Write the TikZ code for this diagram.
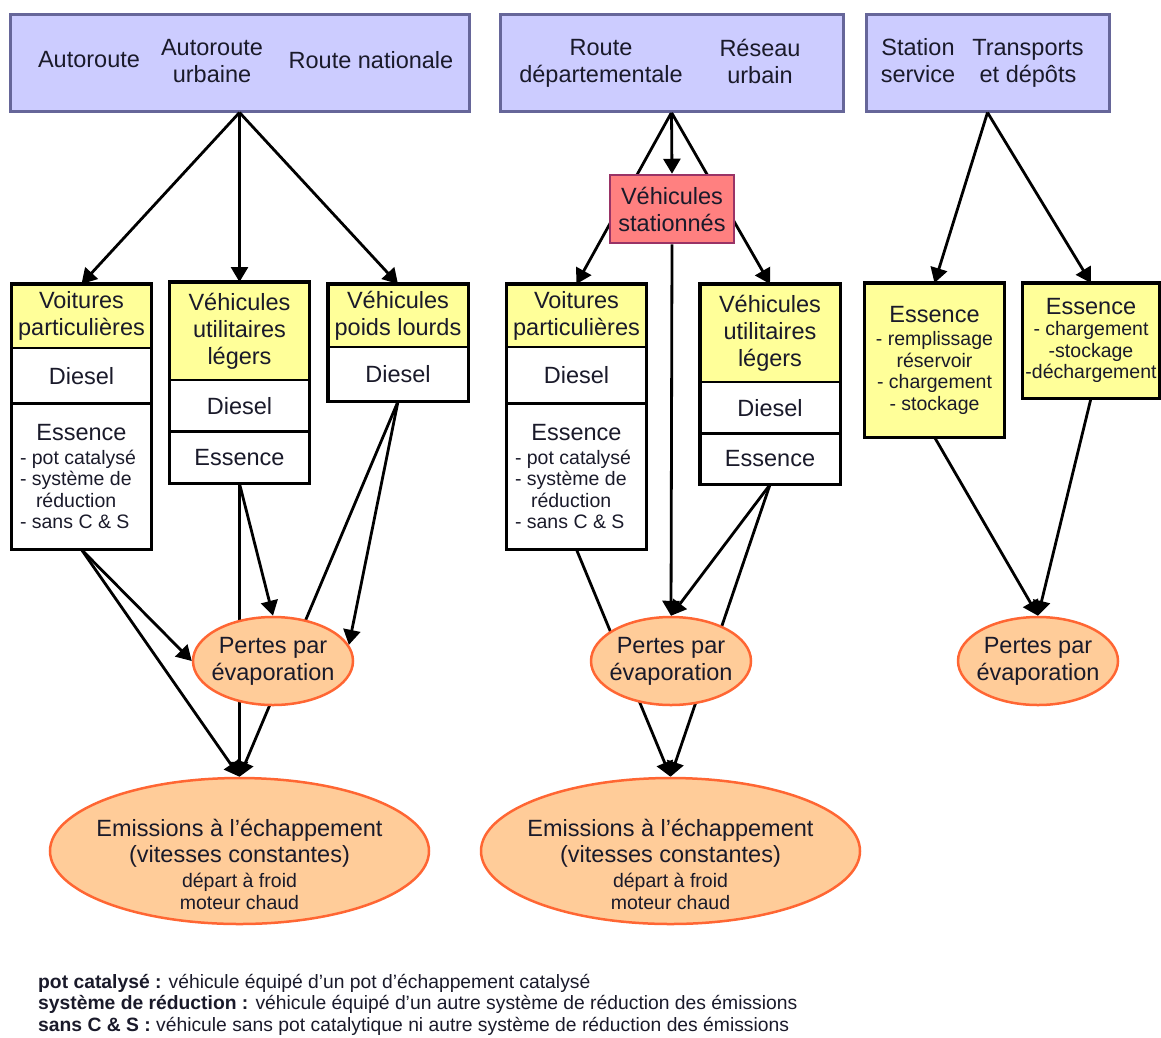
\documentclass[tikz,border=0pt]{standalone}
\usepackage{fontspec}
\setmainfont{Liberation Sans}
\usetikzlibrary{positioning,shapes.geometric,arrows.meta,backgrounds}

\definecolor{roadfill}{HTML}{CCCCFF}
\definecolor{roadline}{HTML}{666699}
\definecolor{catfill}{HTML}{FFFF99}
\definecolor{lossfill}{HTML}{FFCC99}
\definecolor{lossline}{HTML}{FF6633}
\definecolor{parkfill}{HTML}{FF8080}
\definecolor{parkline}{HTML}{993366}
\definecolor{txt}{HTML}{1A1A2A}

\newcommand{\mainsz}{\fontsize{23.5}{27}\selectfont}
\newcommand{\smallsz}{\fontsize{19.5}{21.5}\selectfont}
\newcommand{\legsz}{\fontsize{19.3}{21.5}\selectfont}
\newcommand{\listline}[1]{\makebox[123pt][l]{#1}}

\tikzset{
  road/.style={draw=roadline, fill=roadfill, line width=3pt, minimum height=97, inner sep=0},
  lbl/.style={font=\mainsz, align=center, text=txt, inner sep=0},
  sect/.style={draw, line width=1.2pt, minimum width=139, inner sep=0, anchor=north,
    font=\mainsz, align=center, text=txt},
  head/.style={sect, fill=catfill},
  frame/.style={line width=3.2pt},
  park/.style={draw=parkline, fill=parkfill, line width=2.5pt, minimum width=124,
    minimum height=68, inner sep=0, font=\mainsz, align=center, text=txt},
  loss/.style={ellipse, draw=lossline, fill=lossfill, line width=2.5pt, minimum width=160,
    minimum height=88, inner sep=0},
  legend/.style={anchor=west, font=\legsz, inner sep=0, text=txt},
  link/.style={line width=2.8pt, -{Triangle[length=15pt,width=17pt]}}
}

\begin{document}
\begin{tikzpicture}[x=1pt,y=-1pt]
\useasboundingbox (0,0) rectangle (1161,1037);

% road types
\node[road, minimum width=459] (rd1) at (239.5,62.5) {};
\node[lbl] (rd1a) at (89,60) {Autoroute};
\node[lbl] (rd1b) at (212,61) {Autoroute\\urbaine};
\node[lbl] (rd1c) at (371,60) {Route nationale};

\node[road, minimum width=343] (rd2) at (671.5,62.5) {};
\node[lbl] (rd2a) at (601,63) {Route\\départementale};
\node[lbl] (rd2b) at (760,61) {Réseau\\urbain};

\node[road, minimum width=243] (rd3) at (987.5,62.5) {};
\node[lbl] (rd3a) at (918,61) {Station\\service};
\node[lbl] (rd3b) at (1028,63) {Transports\\et dépôts};

% first group
\node[head, minimum height=63] (vp1h) at (81.5,284) {Voitures\\particulières};
\node[sect, minimum height=54, below=0pt of vp1h] (vp1d) {Diesel};
\node[sect, font=\smallsz, minimum height=145, below=0pt of vp1d] (vp1e) {{\mainsz Essence}\\[2pt]\listline{- pot catalysé}\\\listline{- système de}\\\listline{\hspace{16pt}réduction}\\\listline{- sans C \& S}};
\draw[frame] (vp1h.north west) rectangle (vp1e.south east);

\node[head, minimum height=97] (vul1h) at (239.5,282) {Véhicules\\utilitaires\\légers};
\node[sect, minimum height=50, below=0pt of vul1h] (vul1d) {Diesel};
\node[sect, minimum height=51, below=0pt of vul1d] (vul1e) {Essence};
\draw[frame] (vul1h.north west) rectangle (vul1e.south east);

\node[head, minimum height=62] (pl1h) at (398,284) {Véhicules\\poids lourds};
\node[sect, minimum height=53, below=0pt of pl1h] (pl1d) {Diesel};
\draw[frame] (pl1h.north west) rectangle (pl1d.south east);

\node[loss] (pt1) at (273,661) {};
\node[lbl] (pt1t) at (pt1) {Pertes par\\évaporation};
\node[loss, minimum width=379, minimum height=146] (em1) at (239.5,851) {};
\node[lbl, font=\smallsz] (em1t) at (239.5,864)
  {{\mainsz Emissions à l'échappement}\\[3.5pt]{\mainsz (vitesses constantes)}\\[3.5pt]départ à froid\\moteur chaud};

\draw[link] (rd1.south) -- (vp1h.north);
\draw[link] (rd1.south) -- (vul1h.north);
\draw[link] (rd1.south) -- (pl1h.north);
\draw[link] (vp1e.south) -- (pt1.west);
\draw[link] (vp1e.south) -- (em1.north);
\draw[link] (vul1e.south) -- (pt1.north);
\draw[link] (pl1d.south) -- (pt1.12);
\begin{scope}[on background layer]
  \draw[link] (vul1e.south) -- (em1.north);
  \draw[link] (pl1d.south) -- (em1.north);
\end{scope}

% second group
\node[park] (st2) at (672,209) {Véhicules\\stationnés};

\node[head, minimum height=62] (vp2h) at (576.5,284) {Voitures\\particulières};
\node[sect, minimum height=55, below=0pt of vp2h] (vp2d) {Diesel};
\node[sect, font=\smallsz, minimum height=145, below=0pt of vp2d] (vp2e) {{\mainsz Essence}\\[2pt]\listline{- pot catalysé}\\\listline{- système de}\\\listline{\hspace{16pt}réduction}\\\listline{- sans C \& S}};
\draw[frame] (vp2h.north west) rectangle (vp2e.south east);

\node[head, minimum height=97] (vul2h) at (770,284) {Véhicules\\utilitaires\\légers};
\node[sect, minimum height=50, below=0pt of vul2h] (vul2d) {Diesel};
\node[sect, minimum height=50, below=0pt of vul2d] (vul2e) {Essence};
\draw[frame] (vul2h.north west) rectangle (vul2e.south east);

\node[loss] (pt2) at (671,661) {};
\node[lbl] (pt2t) at (pt2) {Pertes par\\évaporation};
\node[loss, minimum width=379, minimum height=146] (em2) at (670.5,851) {};
\node[lbl, font=\smallsz] (em2t) at (670.5,864)
  {{\mainsz Emissions à l'échappement}\\[3.5pt]{\mainsz (vitesses constantes)}\\[3.5pt]départ à froid\\moteur chaud};

\draw[link] (rd2.south) -- (st2.north);
\draw[link] (st2.south) -- (pt2.north);
\draw[link] (vul2e.south) -- (pt2.north);
\begin{scope}[on background layer]
  \draw[link] (rd2.south) -- (vp2h.north);
  \draw[link] (rd2.south) -- (vul2h.north);
  \draw[link] (vp2e.south) -- (em2.north);
  \draw[link] (vul2e.south) -- (em2.north);
\end{scope}

% third group
\node[head, font=\smallsz, minimum height=153] (es3a) at (934.5,283) {{\mainsz Essence}\\[2pt]- remplissage\\réservoir\\- chargement\\- stockage};
\draw[frame] (es3a.north west) rectangle (es3a.south east);
\node[head, font=\smallsz, minimum width=136, minimum height=114] (es3b) at (1091,283) {{\mainsz Essence}\\[0pt]- chargement\\-stockage\\-déchargement};
\draw[frame] (es3b.north west) rectangle (es3b.south east);

\node[loss] (pt3) at (1038,661) {};
\node[lbl] (pt3t) at (pt3) {Pertes par\\évaporation};

\draw[link] (rd3.south) -- (es3a.north);
\draw[link] (rd3.south) -- (es3b.north);
\draw[link] (es3a.south) -- (pt3.north);
\draw[link] (es3b.south) -- (pt3.north);

% legend
\node[legend] (lg1) at (38,983) {\textbf{pot catalysé :} véhicule équipé d'un pot d'échappement catalysé};
\node[legend] (lg2) at (38,1004) {\textbf{système de réduction :} véhicule équipé d'un autre système de réduction des émissions};
\node[legend] (lg3) at (38,1026) {\textbf{sans C \& S :} véhicule sans pot catalytique ni autre système de réduction des émissions};

\end{tikzpicture}
\end{document}
